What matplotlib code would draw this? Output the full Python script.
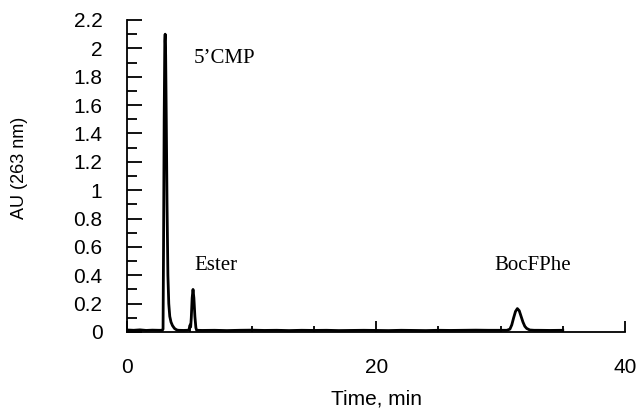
import matplotlib
matplotlib.use("Agg")
import matplotlib.pyplot as plt
from matplotlib.ticker import MultipleLocator

# chromatogram trace (time in min, absorbance in AU)
time_min = [0.0, 0.5, 1.0, 1.5, 2.0, 2.5, 2.8, 2.86, 2.9, 2.95, 3.0, 3.03, 3.07,
            3.12, 3.18, 3.25, 3.32, 3.4, 3.5, 3.62, 3.78, 3.95, 4.1, 4.5, 4.8,
            4.95, 5.0, 5.04, 5.08, 5.13, 5.2, 5.27, 5.34, 5.42, 5.5, 5.56, 6.0,
            7.0, 8.0, 9.0, 10.0, 11.0, 12.0, 13.0, 14.0, 15.0, 16.0, 17.0, 18.0,
            19.0, 20.0, 21.0, 22.0, 23.0, 24.0, 25.0, 26.0, 27.0, 28.0, 29.0,
            30.0, 30.5, 30.75, 30.9, 31.05, 31.2, 31.35, 31.5, 31.65, 31.8,
            31.95, 32.1, 32.35, 32.7, 33.0, 34.0, 35.0]
absorbance = [0.014, 0.012, 0.015, 0.011, 0.013, 0.012, 0.012, 0.02, 0.6, 1.5,
              2.05, 2.1, 1.95, 1.5, 0.9, 0.4, 0.2, 0.11, 0.07, 0.045, 0.025,
              0.015, 0.012, 0.011, 0.012, 0.015, 0.04, 0.05, 0.035, 0.1, 0.24,
              0.30, 0.24, 0.11, 0.03, 0.012, 0.011, 0.012, 0.01, 0.012, 0.013,
              0.011, 0.012, 0.01, 0.012, 0.011, 0.012, 0.01, 0.011, 0.012,
              0.011, 0.01, 0.012, 0.011, 0.01, 0.012, 0.011, 0.012, 0.013,
              0.012, 0.012, 0.012, 0.02, 0.05, 0.1, 0.145, 0.165, 0.15, 0.11,
              0.07, 0.04, 0.025, 0.014, 0.012, 0.012, 0.011, 0.012]

peak_names = ["5\u2019CMP", "Ester", "BocFPhe"]
label_x = [5.3, 5.4, 29.5]
label_y = [1.925, 0.47, 0.47]

fig = plt.figure(figsize=(6.39, 4.08), dpi=100)
ax = fig.add_axes([0.1995, 0.1863, 0.7785, 0.7647])

ax.plot(time_min, absorbance, color="black", lw=2)

for name, x, y in zip(peak_names, label_x, label_y):
    ax.text(x, y, name, family="Liberation Serif", fontsize=15,
            va="center", ha="left")

ax.set_xlim(0, 40)
ax.set_ylim(0, 2.2)
ax.spines["top"].set_visible(False)
ax.spines["right"].set_visible(False)
for s in ("left", "bottom"):
    ax.spines[s].set_linewidth(1.3)

ax.yaxis.set_minor_locator(MultipleLocator(0.1))
ax.xaxis.set_major_locator(MultipleLocator(20))
ax.xaxis.set_minor_locator(MultipleLocator(5))
ax.set_yticks([0, 0.2, 0.4, 0.6, 0.8, 1, 1.2, 1.4, 1.6, 1.8, 2, 2.2])
ax.set_yticklabels(["0", "0.2", "0.4", "0.6", "0.8", "1", "1.2", "1.4",
                    "1.6", "1.8", "2", "2.2"])

ax.tick_params(axis="y", which="major", direction="in", length=11, width=1.3,
               pad=18, labelsize=15)
ax.tick_params(axis="y", which="minor", direction="in", length=7, width=1.3)
ax.tick_params(axis="x", which="major", direction="in", length=8, width=1.3,
               pad=19, labelsize=15)
ax.tick_params(axis="x", which="minor", direction="in", length=4.5, width=1.3)
for lab in ax.get_xticklabels() + ax.get_yticklabels():
    lab.set_family("Liberation Sans")

ax.set_xlabel("Time, min", family="Liberation Sans", fontsize=15, labelpad=9)
fig.text(20 / 639, 1 - 168 / 408, "AU (263 nm)", family="Liberation Sans",
         fontsize=13, rotation=90, ha="center", va="center")

fig.savefig("out.png", dpi=100)
